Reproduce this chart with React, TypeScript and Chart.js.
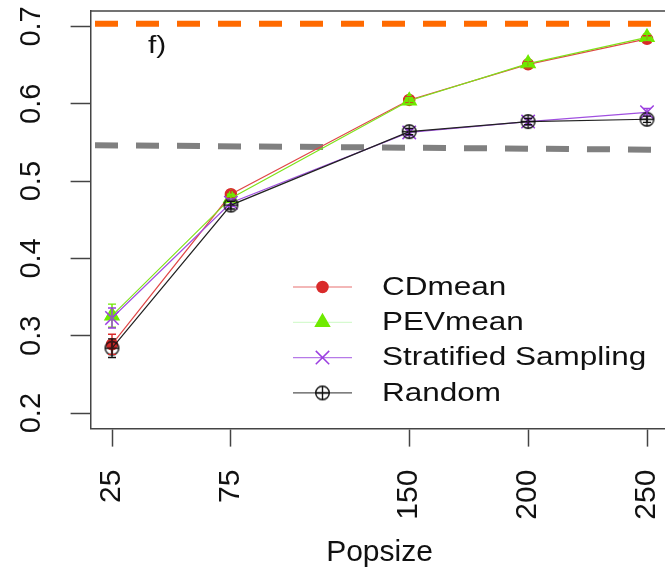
import React, { useEffect, useRef } from "react";
import { Chart, registerables } from "chart.js";
import { drawPoint } from "chart.js/helpers";

Chart.register(...registerables);

// Training population sizes and mean accuracies per selection method
const popsize = [25, 75, 150, 200, 250];
const cdMean = [0.289, 0.483, 0.605, 0.651, 0.684];
const pevMean = [0.326, 0.478, 0.604, 0.652, 0.686];
const stratified = [0.323, 0.472, 0.563, 0.577, 0.589];
const random = [0.284, 0.469, 0.564, 0.577, 0.58];

// Half-widths of the error bars
const cdErr = [0.013, 0.005, 0.004, 0.004, 0.004];
const pevErr = [0.015, 0.005, 0.004, 0.004, 0.004];
const stratErr = [0.013, 0.005, 0.004, 0.004, 0.005];
const randomErr = [0.012, 0.005, 0.004, 0.004, 0.004];

// Reference lines (values at the left and right plot limits)
const xLimits = [16, 259];
const upperRef = [0.7035, 0.7035];
const lowerRef = [0.5465, 0.5405];

const yLimits = [0.18, 0.72];
const xTicks = [25, 75, 150, 200, 250];
const yTicks = [0.2, 0.3, 0.4, 0.5, 0.6, 0.7];

const seriesNames = ["CDmean", "PEVmean", "Stratified Sampling", "Random"];
const xTitle = "Popsize";
const panelTag = "f)";

const FONT = "'Liberation Sans', Arial, Helvetica, sans-serif";
const AXIS_COLOR = "#444";
const CANVAS_W = 680;
const CANVAS_H = 571;

function makeOplus(r: number, color: string, lw: number): HTMLCanvasElement {
  const size = Math.ceil(2 * r + lw + 2);
  const c = document.createElement("canvas");
  c.width = size;
  c.height = size;
  const g = c.getContext("2d")!;
  const m = size / 2;
  g.strokeStyle = color;
  g.lineWidth = lw;
  g.beginPath();
  g.arc(m, m, r, 0, Math.PI * 2);
  g.stroke();
  g.beginPath();
  g.moveTo(m - r, m);
  g.lineTo(m + r, m);
  g.moveTo(m, m - r);
  g.lineTo(m, m + r);
  g.stroke();
  return c;
}

type Series = {
  label: string;
  values: number[];
  errors: number[];
  color: string;
  lineColor: string;
  legendLine: string;
  pointStyle: any;
  radius: number;
  filled: boolean;
};

function buildSeries(): Series[] {
  return [
    {
      label: seriesNames[0],
      values: cdMean,
      errors: cdErr,
      color: "#D92B2B",
      lineColor: "#E04848",
      legendLine: "#E87070",
      pointStyle: "circle",
      radius: 5.5,
      filled: true,
    },
    {
      label: seriesNames[1],
      values: pevMean,
      errors: pevErr,
      color: "#6FEA00",
      lineColor: "#7FE21A",
      legendLine: "#D6FAD0",
      pointStyle: "triangle",
      radius: 8,
      filled: true,
    },
    {
      label: seriesNames[2],
      values: stratified,
      errors: stratErr,
      color: "#9B3FE0",
      lineColor: "#A050E0",
      legendLine: "#B67AE8",
      pointStyle: "crossRot",
      radius: 9.5,
      filled: false,
    },
    {
      label: seriesNames[3],
      values: random,
      errors: randomErr,
      color: "#111111",
      lineColor: "#222222",
      legendLine: "#555555",
      pointStyle: makeOplus(6.8, "#111", 1.4),
      radius: 6.5,
      filled: false,
    },
  ];
}

// keep the plot box fixed: no extra room for overhanging tick labels
function clearPadding(scale: any) {
  scale.paddingTop = 0;
  scale.paddingBottom = 0;
  scale.paddingLeft = 0;
  scale.paddingRight = 0;
}

export default function App() {
  const ref = useRef<HTMLCanvasElement>(null);

  useEffect(() => {
    const canvas = ref.current;
    if (!canvas) return;
    const series = buildSeries();

    const errorBars = {
      id: "errorBars",
      afterDatasetsDraw(chart: any) {
        const { ctx, scales } = chart;
        const x = scales.x;
        const y = scales.y;
        ctx.save();
        series.forEach((s) => {
          ctx.strokeStyle = s.color;
          ctx.lineWidth = 1.4;
          popsize.forEach((p, j) => {
            const px = x.getPixelForValue(p);
            const lo = y.getPixelForValue(s.values[j] - s.errors[j]);
            const hi = y.getPixelForValue(s.values[j] + s.errors[j]);
            ctx.beginPath();
            ctx.moveTo(px, lo);
            ctx.lineTo(px, hi);
            ctx.moveTo(px - 4, lo);
            ctx.lineTo(px + 4, lo);
            ctx.moveTo(px - 4, hi);
            ctx.lineTo(px + 4, hi);
            ctx.stroke();
          });
        });
        ctx.restore();
      },
    };

    const frameAndLegend = {
      id: "frameAndLegend",
      afterDraw(chart: any) {
        const { ctx, chartArea } = chart;
        ctx.save();
        // top edge of the plot box
        ctx.strokeStyle = AXIS_COLOR;
        ctx.lineWidth = 1.5;
        ctx.beginPath();
        ctx.moveTo(chartArea.left, chartArea.top);
        ctx.lineTo(chartArea.right, chartArea.top);
        ctx.stroke();

        // panel tag
        ctx.fillStyle = "#111";
        ctx.textAlign = "left";
        ctx.textBaseline = "middle";
        ctx.font = `23px ${FONT}`;
        ctx.save();
        ctx.translate(148, 47);
        ctx.scale(1.3, 1);
        ctx.fillText(panelTag, 0, 0);
        ctx.restore();

        // legend
        const lineX0 = 293;
        const lineX1 = 352;
        const markX = 322.5;
        const textX = 382;
        const rowY0 = 287;
        const rowDy = 35.3;
        series.forEach((s, i) => {
          const ry = rowY0 + i * rowDy;
          ctx.strokeStyle = s.legendLine;
          ctx.lineWidth = 1.2;
          ctx.beginPath();
          ctx.moveTo(lineX0, ry);
          ctx.lineTo(lineX1, ry);
          ctx.stroke();
          ctx.fillStyle = s.filled ? s.color : "rgba(0,0,0,0)";
          ctx.strokeStyle = s.color;
          ctx.lineWidth = 1.5;
          drawPoint(ctx, { pointStyle: s.pointStyle, radius: s.radius, borderWidth: 1.5, rotation: 0 } as any, markX, ry);
          ctx.fillStyle = "#111";
          ctx.font = `25px ${FONT}`;
          ctx.textAlign = "left";
          ctx.textBaseline = "middle";
          ctx.save();
          ctx.translate(textX, ry + 1);
          ctx.scale(1.26, 1);
          ctx.fillText(s.label, 0, 0);
          ctx.restore();
        });
        ctx.restore();
      },
    };

    const datasets: any[] = series.map((s, i) => ({
      type: "line",
      label: s.label,
      data: popsize.map((x, j) => ({ x, y: s.values[j] })),
      borderColor: s.lineColor,
      borderWidth: 1.2,
      pointStyle: s.pointStyle,
      pointRadius: s.radius,
      pointBackgroundColor: s.filled ? s.color : "rgba(0,0,0,0)",
      pointBorderColor: s.color,
      pointBorderWidth: 1.5,
      tension: 0,
      order: series.length - i,
    }));

    datasets.push(
      {
        type: "line",
        label: "upper",
        data: xLimits.map((x, j) => ({ x, y: upperRef[j] })),
        borderColor: "#FF6A00",
        borderWidth: 6,
        borderDash: [23, 18],
        borderDashOffset: 36.6,
        pointRadius: 0,
        order: 10,
      },
      {
        type: "line",
        label: "lower",
        data: xLimits.map((x, j) => ({ x, y: lowerRef[j] })),
        borderColor: "#808080",
        borderWidth: 6,
        borderDash: [23, 18],
        borderDashOffset: 36.6,
        pointRadius: 0,
        order: 10,
      }
    );

    const chart = new Chart(canvas, {
      type: "line",
      data: { datasets },
      options: {
        animation: false,
        responsive: false,
        devicePixelRatio: 1,
        layout: { padding: { left: 0, top: 7.4, right: CANVAS_W - 668.4, bottom: 0 } },
        plugins: { legend: { display: false }, tooltip: { enabled: false } },
        events: [],
        scales: {
          x: {
            type: "linear",
            min: xLimits[0],
            max: xLimits[1],
            afterBuildTicks: (scale: any) => {
              scale.ticks = xTicks.map((v) => ({ value: v }));
            },
            afterFit: (scale: any) => {
              scale.height = CANVAS_H - 428.6;
              clearPadding(scale);
            },
            grid: {
              display: true,
              drawOnChartArea: false,
              drawTicks: true,
              tickLength: 18,
              tickColor: AXIS_COLOR,
              tickWidth: 1.5,
            },
            border: { display: true, color: AXIS_COLOR, width: 1.5 },
            ticks: {
              autoSkip: false,
              minRotation: 90,
              maxRotation: 90,
              padding: 23,
              color: "#111",
              font: { family: FONT, size: 30 },
              callback: (v: any) => String(v),
            },
            title: {
              display: true,
              text: xTitle,
              color: "#111",
              font: { family: FONT, size: 30 },
              padding: { top: 0, bottom: 0 },
            },
          },
          y: {
            type: "linear",
            min: yLimits[0],
            max: yLimits[1],
            afterBuildTicks: (scale: any) => {
              scale.ticks = yTicks.map((v) => ({ value: v }));
            },
            afterFit: (scale: any) => {
              scale.width = 90.6;
              clearPadding(scale);
            },
            grid: {
              display: true,
              drawOnChartArea: false,
              drawTicks: true,
              tickLength: 20,
              tickColor: AXIS_COLOR,
              tickWidth: 1.5,
            },
            border: { display: true, color: AXIS_COLOR, width: 1.5 },
            ticks: {
              autoSkip: false,
              minRotation: 90,
              maxRotation: 90,
              crossAlign: "center",
              padding: 18,
              color: "#111",
              font: { family: FONT, size: 29 },
              callback: (v: any) => Number(v).toFixed(1),
            },
          },
        },
      },
      plugins: [errorBars, frameAndLegend],
    } as any);

    return () => chart.destroy();
  }, []);

  return (
    <div
      style={{
        position: "fixed",
        left: 0,
        top: 0,
        width: CANVAS_W,
        height: CANVAS_H,
        background: "#fff",
        overflow: "hidden",
      }}
    >
      <canvas ref={ref} width={CANVAS_W} height={CANVAS_H} style={{ display: "block" }} />
    </div>
  );
}
